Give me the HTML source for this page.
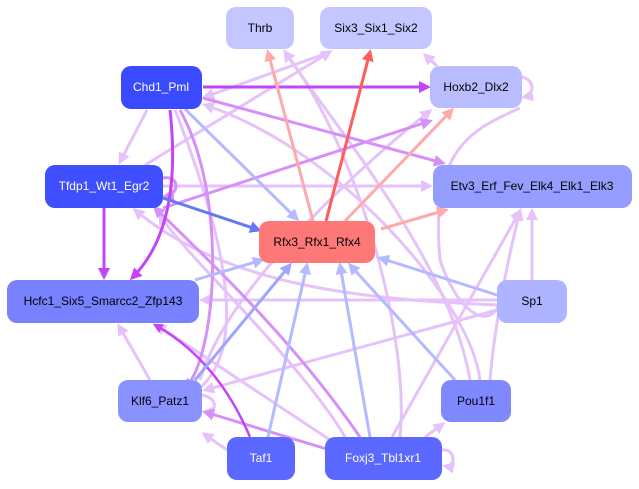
<!DOCTYPE html>
<html><head><style>
html,body{margin:0;padding:0;background:#fff;width:639px;height:489px;overflow:hidden}
text{font-family:"Liberation Sans",sans-serif;font-size:12px;text-anchor:middle;dominant-baseline:central}
</style></head><body>
<svg width="639" height="489" viewBox="0 0 639 489" xmlns="http://www.w3.org/2000/svg">
<defs>
<marker id="a1" markerWidth="4" markerHeight="4" refX="3" refY="2" orient="auto" markerUnits="strokeWidth"><path d="M0,0L4,2L0,4z" fill="#e6c2fa"/></marker>
<marker id="a2" markerWidth="4" markerHeight="4" refX="3" refY="2" orient="auto" markerUnits="strokeWidth"><path d="M0,0L4,2L0,4z" fill="#d690f7"/></marker>
<marker id="a3" markerWidth="4" markerHeight="4" refX="3" refY="2" orient="auto" markerUnits="strokeWidth"><path d="M0,0L4,2L0,4z" fill="#c444f8"/></marker>
<marker id="a4" markerWidth="4" markerHeight="4" refX="3" refY="2" orient="auto" markerUnits="strokeWidth"><path d="M0,0L4,2L0,4z" fill="#b4baff"/></marker>
<marker id="a5" markerWidth="4" markerHeight="4" refX="3" refY="2" orient="auto" markerUnits="strokeWidth"><path d="M0,0L4,2L0,4z" fill="#6478f4"/></marker>
<marker id="a6" markerWidth="4" markerHeight="4" refX="3" refY="2" orient="auto" markerUnits="strokeWidth"><path d="M0,0L4,2L0,4z" fill="#ffaaaa"/></marker>
<marker id="a7" markerWidth="4" markerHeight="4" refX="3" refY="2" orient="auto" markerUnits="strokeWidth"><path d="M0,0L4,2L0,4z" fill="#ff5c5c"/></marker>
<marker id="a8" markerWidth="4" markerHeight="4" refX="3" refY="2" orient="auto" markerUnits="strokeWidth"><path d="M0,0L4,2L0,4z" fill="#9ca6ff"/></marker>
</defs>
<g fill="none" stroke-width="3">
<g stroke="#e6c2fa" marker-end="url(#a1)">
<path d="M330,52 L205,97"/>
<path d="M147,110 L120,162"/>
<path d="M163,186 L430,186"/>
<path d="M497,300 L202,300"/>
<path d="M532,280 L532,211"/>
<path d="M497,310 L205,390"/>
<path d="M497,305 C380,300 230,290 135,210"/>
<path d="M330,440 L157,325"/>
<path d="M392,437 L520,211"/>
<path d="M425,437 L443,424"/>
<path d="M150,380 L119,326"/>
<path d="M227,450 L204,434"/>
<path d="M480,380 C470,300 340,150 205,105"/>
<path d="M470,380 C450,260 330,120 285,52"/>
<path d="M490,380 C495,320 510,250 520,211"/>
<path d="M145,165 L330,52"/>
<path d="M200,380 C230,280 380,150 430,111"/>
<path d="M345,437 C300,360 180,250 160,215"/>
<path d="M400,437 C410,340 360,150 285,52"/>
<path d="M175,110 C230,250 250,360 190,395"/>
<path d="M437,66 L425,55"/>
<path d="M522,77 C535,80 535,95 524,97"/>
<path d="M442,450 C456,448 456,468 445,466"/>
<path d="M202,395 C218,398 218,412 205,412"/>
<path d="M520,108 C470,130 430,150 440,260 C460,320 500,340 505,280"/>
</g>
<g stroke="#d690f7" marker-end="url(#a2)">
<path d="M203,98 L443,163"/>
<path d="M163,208 L430,121"/>
<path d="M330,450 L205,412"/>
<path d="M360,437 C300,350 230,280 155,208"/>
<path d="M180,110 C230,200 215,360 185,388"/>
<path d="M163,178 C180,175 180,195 165,196"/>
</g>
<g stroke="#c444f8" marker-end="url(#a3)">
<path d="M203,87 L428,87"/>
<path d="M104,208 L104,277"/>
<path d="M170,110 C180,200 160,250 132,278"/>
<path d="M250,437 C230,390 200,350 155,325" stroke-width="2.5"/>
</g>
<g stroke="#b4baff" marker-end="url(#a4)">
<path d="M185,109 L297,219"/>
<path d="M497,295 L380,258"/>
<path d="M370,437 L340,265"/>
<path d="M455,380 L350,265"/>
<path d="M268,437 L307,265"/>
<path d="M195,280 L262,260"/>
</g>
<g stroke="#9ca6ff" marker-end="url(#a8)"><path d="M195,380 L290,265"/></g>
<g stroke="#6478f4" marker-end="url(#a5)"><path d="M163,198 L259,230"/></g>
<g stroke="#ffaaaa" marker-end="url(#a6)">
<path d="M313,221 L268,52"/>
<path d="M345,221 L452,110"/>
<path d="M381,229 L446,210"/>
</g>
<g stroke="#ff5c5c" marker-end="url(#a7)"><path d="M326,221 L370,52"/></g>
</g>
<g>
<rect x="226" y="7" width="68" height="42" rx="10" fill="#c4c7ff"/><text x="260" y="28">Thrb</text>
<rect x="320" y="7" width="112" height="42" rx="10" fill="#c4c7ff"/><text x="376" y="28">Six3_Six1_Six2</text>
<rect x="121" y="66" width="81" height="43" rx="10" fill="#3a4aff"/><text x="161" y="87" fill="#fff">Chd1_Pml</text>
<rect x="430" y="66" width="92" height="42" rx="10" fill="#b9bdff"/><text x="476" y="87">Hoxb2_Dlx2</text>
<rect x="45" y="165" width="118" height="43" rx="10" fill="#3f4eff"/><text x="104" y="186" fill="#fff">Tfdp1_Wt1_Egr2</text>
<rect x="433" y="165" width="199" height="43" rx="10" fill="#959dff"/><text x="532" y="186">Etv3_Erf_Fev_Elk4_Elk1_Elk3</text>
<rect x="259" y="221" width="116" height="42" rx="10" fill="#ff7878"/><text x="317" y="242">Rfx3_Rfx1_Rfx4</text>
<rect x="7" y="280" width="192" height="43" rx="10" fill="#7882ff"/><text x="103" y="301">Hcfc1_Six5_Smarcc2_Zfp143</text>
<rect x="497" y="280" width="70" height="43" rx="10" fill="#aeb4ff"/><text x="532" y="301">Sp1</text>
<rect x="118" y="380" width="84" height="42" rx="10" fill="#8a92ff"/><text x="160" y="401">Klf6_Patz1</text>
<rect x="441" y="380" width="70" height="42" rx="10" fill="#7f88ff"/><text x="476" y="401">Pou1f1</text>
<rect x="227" y="437" width="68" height="43" rx="10" fill="#5b68ff"/><text x="261" y="458" fill="#fff">Taf1</text>
<rect x="325" y="437" width="117" height="43" rx="10" fill="#5b68ff"/><text x="383" y="458" fill="#fff">Foxj3_Tbl1xr1</text>
</g>
</svg>
</body></html>
